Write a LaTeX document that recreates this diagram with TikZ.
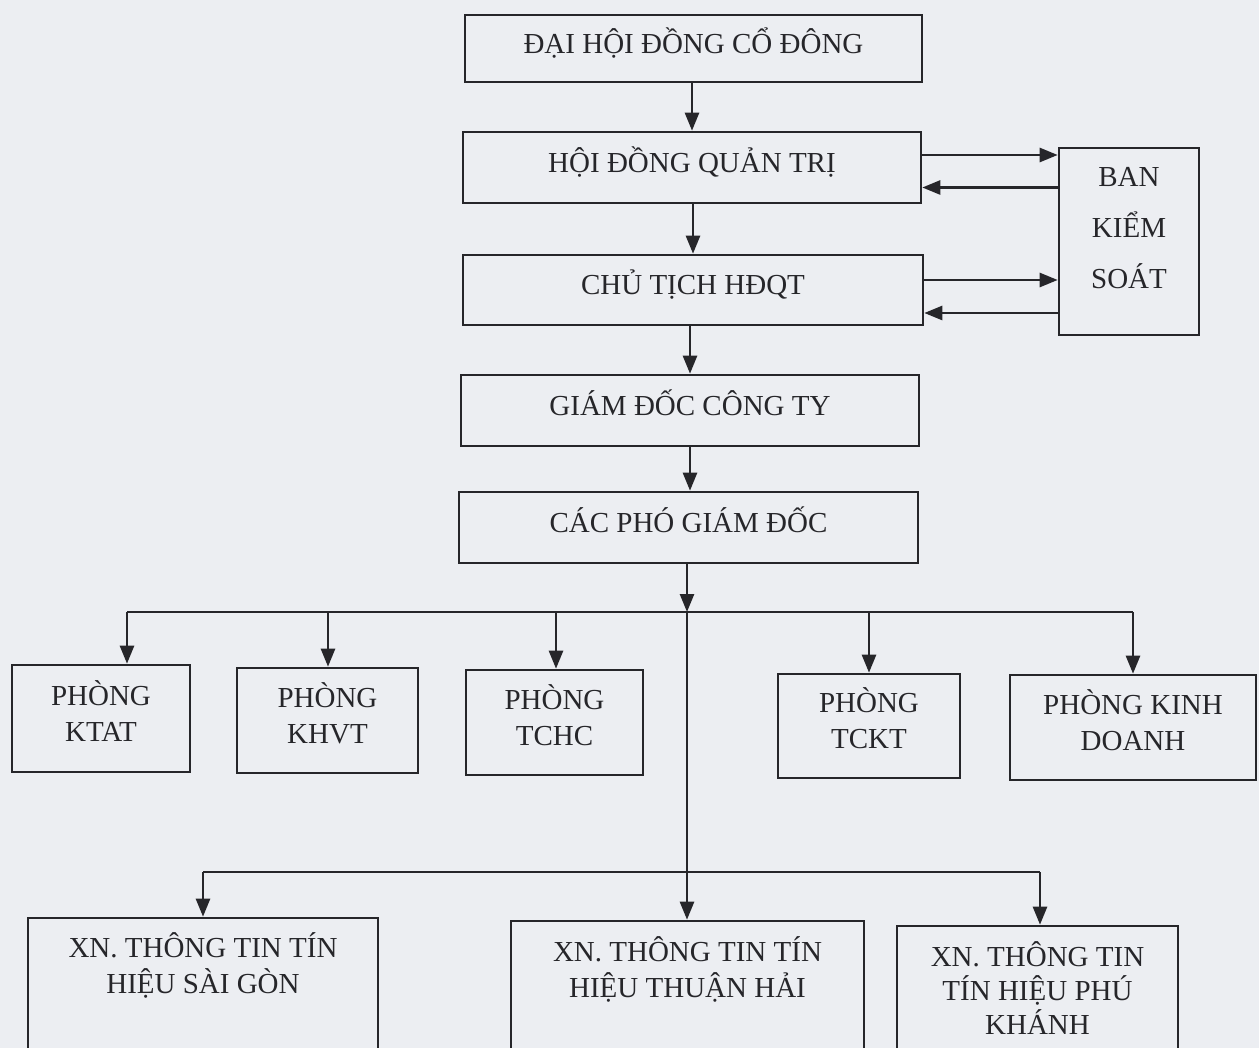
\documentclass[tikz,border=0pt]{standalone}
\usepackage{fontspec}
\setmainfont{Liberation Serif}
\usetikzlibrary{arrows.meta}
\definecolor{paper}{RGB}{236,238,242}
\definecolor{ink}{RGB}{38,38,42}
\begin{document}
\begin{tikzpicture}[x=1pt,y=-1pt,
  box/.style={draw=ink,line width=2.6pt,inner sep=0pt,text=ink,
    font=\fontsize{29}{35}\selectfont,align=center,text height=20pt,text depth=10pt},
  frame/.style={draw=ink,line width=2.6pt,inner sep=0pt},
  lbl/.style={inner sep=0pt,text=ink,font=\fontsize{29}{36}\selectfont,align=center},
  arr/.style={draw=ink,line width=2.6pt,-{Triangle[length=18pt,width=14pt]}},
  ln/.style={draw=ink,line width=2.6pt}]
\fill[paper] (0,0) rectangle (1259,1048);
\useasboundingbox (0,0) rectangle (1259,1048);
\clip (0,0) rectangle (1259,1048);
% main column
\node[box,minimum width=457pt,minimum height=67pt] (dhdcd) at (693.5,48.5) {ĐẠI HỘI ĐỒNG CỔ ĐÔNG};
\node[box,minimum width=458pt,minimum height=71pt] (hdqt) at (692,167.5) {HỘI ĐỒNG QUẢN TRỊ};
\node[box,minimum width=460pt,minimum height=70pt] (ct) at (693,290) {CHỦ TỊCH HĐQT};
\node[box,minimum width=458pt,minimum height=71pt] (gd) at (690,410.5) {GIÁM ĐỐC CÔNG TY};
\node[box,minimum width=459pt,minimum height=71pt] (pgd) at (688.5,527.5) {CÁC PHÓ GIÁM ĐỐC};
\node[frame,minimum width=140pt,minimum height=187pt] (bks) at (1129,241.5) {};
\node[lbl,font=\fontsize{29}{51}\selectfont] (bkst) at (1129,228) {BAN\\KIỂM\\SOÁT};
% departments
\node[frame,minimum width=178pt,minimum height=107pt] (ktat) at (101,718.5) {};
\node[lbl] (ktatt) at (101,711) {PHÒNG\\KTAT};
\node[frame,minimum width=181pt,minimum height=105pt] (khvt) at (327.5,720.5) {};
\node[lbl] (khvtt) at (327.5,713) {PHÒNG\\KHVT};
\node[frame,minimum width=177pt,minimum height=105pt] (tchc) at (554.5,722.5) {};
\node[lbl] (tchct) at (554.5,715) {PHÒNG\\TCHC};
\node[frame,minimum width=182pt,minimum height=104pt] (tckt) at (869,726) {};
\node[lbl] (tcktt) at (869,718) {PHÒNG\\TCKT};
\node[frame,minimum width=246pt,minimum height=105pt] (kd) at (1133,727.5) {};
\node[lbl] (kdt) at (1133,720) {PHÒNG KINH\\DOANH};
% enterprises
\node[frame,minimum width=350pt,minimum height=142pt] (xnsg) at (203,989) {};
\node[lbl] (xnsgt) at (203,965) {XN. THÔNG TIN TÍN\\HIỆU SÀI GÒN};
\node[frame,minimum width=353pt,minimum height=139pt] (xnth) at (687.5,990.5) {};
\node[lbl] (xntht) at (687.5,969) {XN. THÔNG TIN TÍN\\HIỆU THUẬN HẢI};
\node[frame,minimum width=281pt,minimum height=134pt] (xnpk) at (1037.5,993) {};
\node[lbl,font=\fontsize{29}{34}\selectfont] (xnpkt) at (1037.5,988) {XN. THÔNG TIN\\TÍN HIỆU PHÚ\\KHÁNH};
% vertical chain
\draw[arr] (692,82) coordinate (a1) -- (a1 |- hdqt.north);
\draw[arr] (693,203) coordinate (a2) -- (a2 |- ct.north);
\draw[arr] (690,325) coordinate (a3) -- (a3 |- gd.north);
\draw[arr] (690,446) coordinate (a4) -- (a4 |- pgd.north);
% board of supervisors
\draw[arr] ([yshift=12.5pt]hdqt.east) -- ([yshift=12.5pt]hdqt.east -| bks.west);
\draw[arr] ([yshift=-20pt]hdqt.east -| bks.west) -- ([yshift=-20pt]hdqt.east);
\draw[arr] ([yshift=10pt]ct.east) -- ([yshift=10pt]ct.east -| bks.west);
\draw[arr] ([yshift=-23pt]ct.east -| bks.west) -- ([yshift=-23pt]ct.east);
% bus 1
\coordinate (p0) at (687,563);
\coordinate (b1) at (687,612);
\coordinate (b1l) at (127,612);
\coordinate (b1r) at (1133,612);
\draw[arr] (p0) -- (b1);
\draw[ln] (b1l) -- (b1r);
\draw[arr] (b1l) -- (b1l |- ktat.north);
\draw[arr] (328,612) coordinate (c2) -- (c2 |- khvt.north);
\draw[arr] (556,612) coordinate (c3) -- (c3 |- tchc.north);
\draw[arr] (869,612) coordinate (c4) -- (c4 |- tckt.north);
\draw[arr] (b1r) -- (b1r |- kd.north);
% bus 2
\coordinate (b2l) at (203,872);
\coordinate (b2r) at (1040,872);
\draw[arr] (b1) -- (b1 |- xnth.north);
\draw[ln] (b2l) -- (b2r);
\draw[arr] (b2l) -- (b2l |- xnsg.north);
\draw[arr] (b2r) -- (b2r |- xnpk.north);
\end{tikzpicture}
\end{document}
